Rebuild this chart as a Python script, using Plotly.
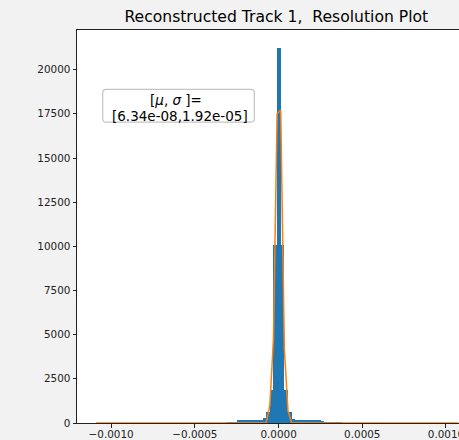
import plotly.graph_objects as go

# ---------------- data ----------------
x_min = -0.001091          # left edge of first histogram bin
bin_width = 2.1645e-5      # histogram bin width
counts = ([0] * 36 +
          [25, 20, 30] +
          [160, 175, 170, 180, 165, 175, 185] +
          [300, 600, 1860, 10100, 21200, 10100, 1860, 600, 250] +
          [180, 170, 175, 165, 170, 160, 150] +
          [70, 10] +
          [25, 20, 30, 25] +
          [0] * 32)

fit_x = [-0.001091, -9.53e-5, -7.37e-5, -5.20e-5, -3.04e-5, -8.8e-6,
         1.29e-5, 3.45e-5, 5.62e-5, 7.78e-5, 0.0010735]
fit_y = [0, 0, 20, 1000, 4800, 17500, 17700, 4200, 700, 10, 0]

x_tick_vals = [-0.001, -0.0005, 0.0, 0.0005, 0.001]
x_tick_text = ["\u22120.0010", "\u22120.0005", "0.0000", "0.0005", "0.0010"]
y_tick_vals = [0, 2500, 5000, 7500, 10000, 12500, 15000, 17500, 20000]
y_tick_text = ["0", "2500", "5000", "7500", "10000", "12500", "15000", "17500", "20000"]

title_text = "Reconstructed Track 1,\u00a0 Resolution Plot"
label_line1 = "[<i>\u03bc</i>, <i>\u03c3</i> ]="
label_line2 = "[6.34e-08,1.92e-05]"

# ---------------- figure ----------------
centers = [x_min + bin_width * (i + 0.5) for i in range(len(counts))]

fig = go.Figure()
fig.add_trace(go.Bar(x=centers, y=counts, width=bin_width,
                     marker=dict(color="#1f77b4", line=dict(width=0))))
fig.add_trace(go.Scatter(x=fit_x, y=fit_y, mode="lines",
                         line=dict(color="#ff7f0e", width=1.5)))

W, H = 459, 440
L, R, T, B = 77, 0, 30, 17
pw, ph = W - L - R, H - T - B

def px_x(p):
    return (p - L) / pw

def px_y(p):
    return 1 - (p - T) / ph

# rounded annotation box
bx0, bx1, by0, by1, rad = 102.7, 254.3, 89.3, 122.2, 3.5
path = (f"M {px_x(bx0+rad)},{px_y(by0)} L {px_x(bx1-rad)},{px_y(by0)} "
        f"Q {px_x(bx1)},{px_y(by0)} {px_x(bx1)},{px_y(by0+rad)} "
        f"L {px_x(bx1)},{px_y(by1-rad)} Q {px_x(bx1)},{px_y(by1)} {px_x(bx1-rad)},{px_y(by1)} "
        f"L {px_x(bx0+rad)},{px_y(by1)} Q {px_x(bx0)},{px_y(by1)} {px_x(bx0)},{px_y(by1-rad)} "
        f"L {px_x(bx0)},{px_y(by0+rad)} Q {px_x(bx0)},{px_y(by0)} {px_x(bx0+rad)},{px_y(by0)} Z")
fig.add_shape(type="path", xref="paper", yref="paper", path=path,
              line=dict(color="#c4c4c4", width=1.2), fillcolor="white", layer="above")

fig.add_annotation(text=label_line1, xref="paper", yref="paper",
                   x=px_x(175.5), y=px_y(100.0), xanchor="center", yanchor="middle",
                   showarrow=False, font=dict(size=13.5, color="black", family="DejaVu Sans"))
fig.add_annotation(text=label_line2, xref="paper", yref="paper",
                   x=px_x(180.2), y=px_y(115.8), xanchor="center", yanchor="middle",
                   showarrow=False, font=dict(size=13.5, color="black", family="DejaVu Sans"))

axis_col = "#222222"
fig.update_layout(
    width=W, height=H,
    margin=dict(l=L, r=R, t=T, b=B, pad=0),
    paper_bgcolor="#f2f2f2", plot_bgcolor="white",
    showlegend=False, bargap=0,
    font=dict(family="DejaVu Sans", color=axis_col),
    title=dict(text=title_text, x=276.3 / W, xref="container", xanchor="center",
               y=1 - 17 / H, yref="container", yanchor="middle",
               font=dict(size=15.6, color="black", family="DejaVu Sans")),
    xaxis=dict(range=[-0.001204, 0.0010777], tickvals=x_tick_vals, ticktext=x_tick_text,
               ticks="outside", ticklen=3.5, tickwidth=1, tickcolor=axis_col,
               showline=True, linecolor=axis_col, linewidth=1, mirror=True,
               showgrid=False, zeroline=False, automargin=False,
               ticklabeloverflow="allow", ticklabelstandoff=-2,
               tickfont=dict(size=10.4, color=axis_col)),
    yaxis=dict(range=[0, 22245], tickvals=y_tick_vals, ticktext=y_tick_text,
               ticks="outside", ticklen=3.5, tickwidth=1, tickcolor=axis_col,
               showline=True, linecolor=axis_col, linewidth=1, mirror=False,
               showgrid=False, zeroline=False, automargin=False,
               tickfont=dict(size=10.4, color=axis_col)),
)

fig.write_html("out.html")
